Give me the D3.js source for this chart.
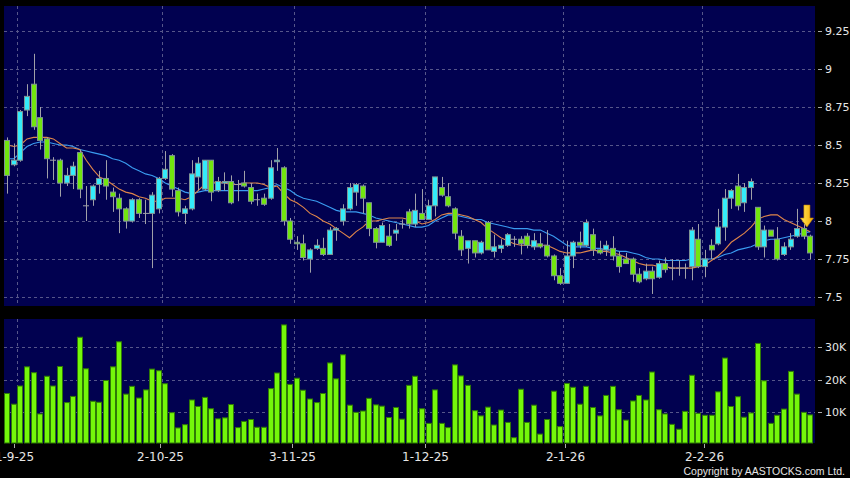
<!DOCTYPE html>
<html>
<head>
<meta charset="utf-8">
<script src="https://d3js.org/d3.v7.min.js"></script>
<style>
  body { margin: 0; background: #000; }
  svg { display: block; }
</style>
</head>
<body>
<svg width="850" height="478"></svg>
<script>
// daily OHLC (29-8-25 .. end of Feb 26)
var open = [8.53,8.37,8.40,8.73,8.90,8.68,8.54,8.40,8.40,8.25,8.30,8.45,8.10,8.14,8.24,8.28,8.19,8.15,8.08,8.00,
  8.14,8.05,8.05,8.08,8.28,8.43,8.20,8.05,8.08,8.29,8.21,8.40,8.20,8.25,8.26,8.24,8.25,8.22,8.14,8.15,
  8.15,8.39,8.35,8.00,7.86,7.85,7.75,7.82,7.82,7.78,7.94,8.00,8.08,8.19,8.23,8.12,7.95,7.86,7.90,7.92,
  7.98,8.06,7.98,8.05,8.01,8.10,8.22,8.16,8.08,7.90,7.82,7.87,7.79,7.99,7.80,7.82,7.84,7.88,7.88,7.90,
  7.83,7.85,7.84,7.77,7.64,7.59,7.77,7.86,7.84,7.91,7.81,7.81,7.82,7.77,7.75,7.75,7.65,7.62,7.67,7.63,
  7.72,7.69,7.69,7.69,7.70,7.88,7.70,7.84,7.85,7.96,8.15,8.23,8.12,8.22,8.09,7.83,7.94,7.88,7.78,7.83,
  7.90,7.95,7.90];
var high = [8.55,8.51,8.73,8.90,9.10,8.75,8.55,8.42,8.41,8.35,8.39,8.47,8.23,8.24,8.33,8.40,8.22,8.18,8.09,8.15,
  8.15,8.14,8.19,8.29,8.46,8.44,8.22,8.10,8.40,8.42,8.40,8.40,8.29,8.32,8.30,8.27,8.33,8.25,8.18,8.18,
  8.40,8.48,8.36,8.02,7.90,7.91,7.82,7.88,7.89,7.96,7.96,8.11,8.25,8.25,8.24,8.12,7.96,7.99,7.98,7.98,
  8.01,8.08,8.18,8.21,8.14,8.29,8.29,8.25,8.09,7.94,7.87,7.87,7.87,8.00,7.91,7.88,7.92,7.90,7.90,7.92,
  7.92,7.92,7.94,7.78,7.69,7.87,7.87,7.93,8.01,7.95,7.87,7.87,7.90,7.80,7.79,7.76,7.69,7.72,7.70,7.74,
  7.76,7.75,7.74,7.72,7.96,7.98,7.81,7.88,8.08,8.21,8.21,8.31,8.25,8.28,8.09,7.97,7.94,7.96,7.86,7.92,
  8.08,7.98,7.91];
var low = [8.18,8.36,8.39,8.69,8.60,8.47,8.28,8.27,8.16,8.23,8.21,8.15,8.00,8.10,8.18,8.14,8.06,7.92,7.95,7.99,
  8.02,7.98,7.69,8.05,8.27,8.16,8.03,7.98,8.07,8.20,8.20,8.13,8.19,8.20,8.11,8.13,8.22,8.11,8.10,8.10,
  8.14,8.33,7.97,7.85,7.81,7.74,7.66,7.81,7.77,7.78,7.87,7.97,8.07,8.10,8.05,7.90,7.82,7.86,7.83,7.87,
  7.95,7.95,7.96,8.01,8.01,8.03,8.16,8.09,7.88,7.77,7.72,7.76,7.78,7.81,7.76,7.79,7.83,7.83,7.78,7.82,
  7.81,7.82,7.76,7.61,7.58,7.59,7.69,7.82,7.83,7.77,7.78,7.77,7.74,7.66,7.72,7.60,7.59,7.61,7.52,7.62,
  7.66,7.61,7.64,7.62,7.61,7.69,7.63,7.75,7.84,7.87,8.08,8.07,8.06,8.14,7.81,7.76,7.90,7.74,7.77,7.81,
  7.89,7.88,7.75];
var close = [8.30,8.40,8.72,8.82,8.62,8.53,8.41,8.40,8.25,8.30,8.36,8.21,8.10,8.23,8.28,8.23,8.16,8.08,8.00,8.14,
  8.05,8.05,8.17,8.28,8.34,8.21,8.06,8.08,8.31,8.38,8.40,8.19,8.26,8.26,8.12,8.24,8.23,8.13,8.14,8.11,
  8.35,8.40,8.00,7.88,7.85,7.76,7.81,7.84,7.78,7.94,7.95,8.08,8.22,8.24,8.15,7.95,7.86,7.97,7.84,7.94,
  7.98,7.98,8.07,8.01,8.10,8.29,8.17,8.10,7.92,7.81,7.87,7.79,7.86,7.81,7.83,7.84,7.91,7.88,7.85,7.84,
  7.87,7.83,7.77,7.64,7.59,7.77,7.86,7.84,7.99,7.81,7.79,7.84,7.77,7.70,7.72,7.65,7.60,7.67,7.62,7.72,
  7.68,7.69,7.69,7.69,7.94,7.70,7.75,7.81,7.96,8.15,8.20,8.10,8.22,8.26,7.83,7.94,7.90,7.75,7.83,7.88,
  7.95,7.90,7.79];
// moving averages as drawn (orange = short, blue = long)
var maShort = [8.50,8.49,8.50,8.54,8.55,8.55,8.55,8.54,8.51,8.48,8.48,8.47,8.40,8.34,8.29,8.27,8.24,8.21,8.19,8.18,
  8.16,8.15,8.13,8.13,8.15,8.15,8.15,8.14,8.16,8.20,8.24,8.25,8.26,8.25,8.24,8.24,8.25,8.25,8.25,8.24,
  8.22,8.23,8.18,8.14,8.12,8.09,8.05,8.03,8.00,7.98,7.95,7.92,7.89,7.93,7.96,8.00,8.00,8.01,8.02,8.02,
  8.02,8.01,8.00,7.98,7.99,8.01,8.04,8.05,8.05,8.04,8.03,8.01,7.99,7.95,7.92,7.89,7.87,7.85,7.84,7.84,
  7.84,7.84,7.84,7.82,7.80,7.79,7.79,7.79,7.80,7.81,7.80,7.80,7.79,7.78,7.76,7.74,7.72,7.71,7.71,7.70,
  7.70,7.69,7.69,7.69,7.69,7.70,7.71,7.74,7.77,7.81,7.86,7.89,7.92,7.96,8.01,8.03,8.04,8.04,8.01,7.99,
  7.97,7.95,7.93];
var maLong = [8.41,8.41,8.45,8.49,8.51,8.52,8.52,8.51,8.50,8.50,8.49,8.47,8.46,8.45,8.44,8.43,8.41,8.40,8.38,8.35,
  8.33,8.31,8.30,8.28,8.25,8.23,8.21,8.19,8.18,8.19,8.20,8.20,8.20,8.20,8.20,8.20,8.20,8.20,8.20,8.21,
  8.22,8.24,8.22,8.20,8.17,8.15,8.14,8.13,8.11,8.09,8.07,8.06,8.06,8.06,8.05,8.04,8.02,8.01,8.00,7.99,
  7.98,7.97,7.96,7.96,7.97,8.00,8.02,8.04,8.04,8.03,8.02,8.01,8.01,7.99,7.98,7.97,7.96,7.95,7.95,7.95,
  7.94,7.94,7.92,7.90,7.87,7.84,7.83,7.83,7.83,7.82,7.82,7.81,7.81,7.80,7.80,7.79,7.78,7.76,7.75,7.75,
  7.74,7.74,7.74,7.74,7.75,7.75,7.75,7.75,7.76,7.78,7.79,7.81,7.82,7.83,7.85,7.87,7.88,7.88,7.89,7.90,
  7.91,7.92,7.93];
// volume in thousands
var volume = [15.7,12.4,18.0,23.9,22.1,9.4,21.0,18.0,24.0,12.9,14.8,33.0,23.3,13.3,13.0,19.7,23.9,31.6,15.5,17.9,
  14.3,16.8,23.2,22.7,18.7,9.8,5.1,6.1,13.7,11.7,14.5,11.0,7.9,8.2,12.3,5.2,7.1,7.7,5.3,5.3,
  17.2,22.0,36.8,18.5,20.4,16.7,14.0,12.9,15.7,25.1,20.2,27.6,12.1,9.9,10.3,14.2,12.2,11.8,8.3,11.4,
  7.8,18.2,21.0,11.0,6.5,16.8,6.5,5.2,24.5,21.1,18.2,10.4,8.8,11.5,6.0,10.6,6.8,2.1,17.0,6.8,
  12.1,3.2,7.7,16.4,5.5,18.8,17.6,12.4,17.9,11.4,8.8,15.1,17.9,10.7,7.5,13.4,15.1,13.7,22.3,10.7,
  9.4,6.2,4.7,10.2,21.3,9.6,9.0,9.0,16.2,26.6,11.7,14.7,8.4,9.7,31.1,19.6,6.5,9.0,10.9,22.5,
  15.5,9.9,9.1];

var priceTicks = [9.25, 9, 8.75, 8.5, 8.25, 8, 7.75, 7.5];
var volTicks = [10, 20, 30];
var monthStart = [1, 23, 43, 63, 84, 105];
var monthLabels = ["1-9-25", "2-10-25", "3-11-25", "1-12-25", "2-1-26", "2-2-26"];
var signalIndex = 121, signalPrice = 7.96;

var svg = d3.select("svg");
var n = close.length;
var idx = d3.range(n);

var x = d3.scaleBand().domain(idx).range([4, 813.5]).paddingInner(0.1).paddingOuter(0.05);
var bw = x.bandwidth(), step = x.step();
var y = d3.scaleLinear().domain([7.5, 9.25]).range([297, 31]);
var yv = d3.scaleLinear().domain([0, 30]).range([444.5, 347]);
// the date axis of the original runs on a slightly wider scale
var xt = d3.scaleLinear().domain([0, n - 1]).range([7, 817]);

var navy = "#010150", grid = "#56568a";

// panels
svg.append("rect").attr("x", 4).attr("y", 6).attr("width", 811).attr("height", 300).attr("fill", navy);
svg.append("rect").attr("x", 4).attr("y", 319).attr("width", 811).attr("height", 124).attr("fill", navy);

function vgrid(y0, y1) {
    svg.append("g").selectAll("line").data(monthStart).enter().append("line")
        .attr("x1", function (d) { return Math.round(x(d) + bw / 2 + step / 2) + 0.5; })
        .attr("x2", function (d) { return Math.round(x(d) + bw / 2 + step / 2) + 0.5; })
        .attr("y1", y0).attr("y2", y1)
        .attr("stroke", grid).attr("stroke-dasharray", "3,3");
}
vgrid(6, 306);
vgrid(319, 443);

// horizontal grid + right labels, price
var pg = svg.append("g").selectAll("g").data(priceTicks).enter().append("g")
    .attr("transform", function (d) { return "translate(0," + (Math.round(y(d)) + 0.5) + ")"; });
pg.append("line").attr("x1", 4).attr("x2", 815).attr("stroke", grid).attr("stroke-dasharray", "3,3");
pg.append("line").attr("x1", 818).attr("x2", 822).attr("stroke", "#aaa");
pg.append("text").attr("x", 825).attr("dy", "0.36em").text(function (d) { return d; })
    .attr("fill", "#e6e6e6").style("font", "11px 'DejaVu Sans'");

var vg = svg.append("g").selectAll("g").data(volTicks).enter().append("g")
    .attr("transform", function (d) { return "translate(0," + (Math.round(yv(d)) + 0.5) + ")"; });
vg.append("line").attr("x1", 4).attr("x2", 815).attr("stroke", grid).attr("stroke-dasharray", "3,3");
vg.append("line").attr("x1", 818).attr("x2", 822).attr("stroke", "#aaa");
vg.append("text").attr("x", 825).attr("dy", "0.36em").text(function (d) { return d + "K"; })
    .attr("fill", "#e6e6e6").style("font", "11px 'DejaVu Sans'");

// moving averages
var line = function (arr) {
    return d3.line().x(function (d, i) { return x(i) + bw / 2; }).y(function (d) { return y(d); })(arr);
};
svg.append("path").attr("d", line(maLong)).attr("fill", "none").attr("stroke", "#3a9cf0").attr("stroke-width", 1.1);
svg.append("path").attr("d", line(maShort)).attr("fill", "none").attr("stroke", "#e0864a").attr("stroke-width", 1.1);

// candles
var candle = svg.append("g").selectAll("g").data(idx).enter().append("g");
candle.append("line")
    .attr("x1", function (i) { return Math.round(x(i) + bw / 2) + 0.5; })
    .attr("x2", function (i) { return Math.round(x(i) + bw / 2) + 0.5; })
    .attr("y1", function (i) { return y(high[i]); })
    .attr("y2", function (i) { return y(low[i]); })
    .attr("stroke", "#a0a0a8");
candle.append("rect")
    .attr("x", function (i) { return Math.round(x(i)) + 0.5; })
    .attr("width", Math.round(bw) - 1)
    .attr("y", function (i) { return y(Math.max(open[i], close[i])); })
    .attr("height", function (i) { return Math.max(0.01, Math.abs(y(open[i]) - y(close[i]))); })
    .attr("fill", function (i) {
        if (close[i] > open[i]) return "#34ecfa";
        if (close[i] < open[i]) return "#72e60e";
        return "#a0a0a8";
    })
    .attr("stroke", function (i) { return close[i] == open[i] ? "#a0a0a8" : "#7f9494"; });

// signal arrow
var ax = x(signalIndex) + bw / 2 + step / 2, ay = y(signalPrice);
var defs = svg.append("defs");
var grad = defs.append("linearGradient").attr("id", "arrowGrad").attr("x1", 0).attr("x2", 1);
grad.append("stop").attr("offset", "0%").attr("stop-color", "#ffe95a");
grad.append("stop").attr("offset", "100%").attr("stop-color", "#f2a800");
svg.append("path")
    .attr("d", "M0,0 L-6.5,-9 L-3,-9 L-3,-22 L3,-22 L3,-9 L6.5,-9 Z")
    .attr("transform", "translate(" + ax + "," + ay + ")")
    .attr("fill", "url(#arrowGrad)").attr("stroke", "#c98a00").attr("stroke-width", 0.6);

// volume bars
svg.append("g").selectAll("rect").data(idx).enter().append("rect")
    .attr("x", function (i) { return Math.round(x(i)) + 0.5; })
    .attr("width", Math.round(bw) - 1)
    .attr("y", function (i) { return yv(volume[i]); })
    .attr("height", function (i) { return 443 - yv(volume[i]); })
    .attr("fill", "#74f70a").attr("stroke", "#2f7a06");

// date axis
var dt = svg.append("g").selectAll("g").data(monthStart).enter().append("g")
    .attr("transform", function (d) { return "translate(" + (Math.round(xt(d)) + 0.5) + ",0)"; });
dt.append("line").attr("y1", 444).attr("y2", 448).attr("stroke", "#aaa");
dt.append("text").attr("y", 461).attr("text-anchor", "middle")
    .text(function (d, i) { return monthLabels[i]; })
    .attr("fill", "#e6e6e6").style("font", "12px 'DejaVu Sans'");

svg.append("text").attr("x", 845).attr("y", 475).attr("text-anchor", "end")
    .text("Copyright by AASTOCKS.com Ltd.")
    .attr("fill", "#e6e6e6").style("font", "10.5px 'Liberation Sans'");
</script>
</body>
</html>
